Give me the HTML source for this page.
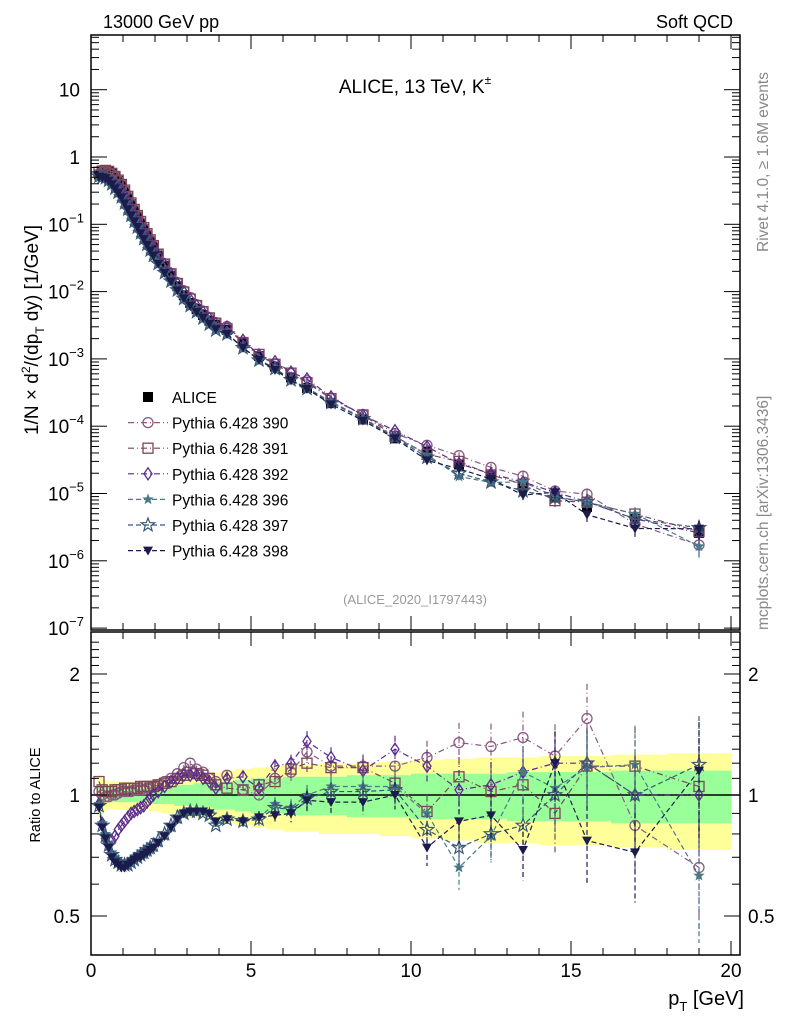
<!DOCTYPE html>
<html><head><meta charset="utf-8">
<style>
html,body{margin:0;padding:0;background:#fff;}
svg{display:block;font-family:"Liberation Sans",sans-serif;}
</style></head>
<body>
<svg id="chart" width="786" height="1024" viewBox="0 0 786 1024">
<defs>
<clipPath id="clipMain"><rect x="91" y="35" width="649" height="595"/></clipPath>
<clipPath id="clipRatio"><rect x="91" y="632" width="649" height="323"/></clipPath>
</defs>
<g id="bands" clip-path="url(#clipRatio)"></g>
<g id="ratioMarks" clip-path="url(#clipRatio)"></g>
<g id="mainAlice" clip-path="url(#clipMain)"></g>
<g id="mainMarks" clip-path="url(#clipMain)"></g>
<g id="axes"></g>
<text x="103" y="28" font-size="18">13000 GeV pp</text>
<text x="733" y="28" font-size="18" text-anchor="end">Soft QCD</text>
<text x="415" y="93" font-size="19" text-anchor="middle">ALICE, 13 TeV, K<tspan font-size="12" dy="-9">±</tspan></text>
<text x="415" y="604" font-size="13" fill="#999" text-anchor="middle">(ALICE_2020_I1797443)</text>
<text transform="translate(768,252) rotate(-90)" font-size="15.5" fill="#888">Rivet 4.1.0, ≥ 1.6M events</text>
<text transform="translate(768,630) rotate(-90)" font-size="15.5" fill="#888">mcplots.cern.ch [arXiv:1306.3436]</text>
<text transform="translate(38,330) rotate(-90)" font-size="19" text-anchor="middle">1/N × d<tspan font-size="12" dy="-8">2</tspan><tspan dy="8">/(dp</tspan><tspan font-size="12" dy="6">T</tspan><tspan dy="-6"> dy) [1/GeV]</tspan></text>
<text transform="translate(40,795) rotate(-90)" font-size="14.5" text-anchor="middle">Ratio to ALICE</text>
<text x="744" y="1005" font-size="20" text-anchor="end">p<tspan font-size="13" dy="6">T</tspan><tspan dy="-6"> [GeV]</tspan></text>
<g id="legend"></g>
</svg>
<script>
const pts=[0.25,0.35,0.45,0.55,0.65,0.75,0.85,0.95,1.05,1.15,1.25,1.35,1.45,1.55,1.65,1.75,1.85,1.95,2.1,2.3,2.5,2.7,2.9,3.1,3.3,3.5,3.7,3.9,4.25,4.75,5.25,5.75,6.25,6.75,7.5,8.5,9.5,10.5,11.5,12.5,13.5,14.5,15.5,17,19];
const alice=[0.55,0.6,0.62,0.6,0.56,0.5,0.44,0.38,0.31,0.25,0.2,0.16,0.13,0.105,0.085,0.069,0.056,0.046,0.034,0.024,0.017,0.012,0.0088,0.0068,0.0055,0.0045,0.0037,0.0032,0.0027,0.0017,0.0011,0.00077,0.00053,0.00037,0.00022,0.000126,0.000066,0.000042,0.000027,0.0000185,0.000013,0.0000087,0.0000063,0.0000042,0.0000026];
const bandYellow=[0.12,0.1,0.09,0.08,0.08,0.08,0.08,0.08,0.08,0.08,0.08,0.08,0.08,0.08,0.08,0.08,0.09,0.09,0.09,0.1,0.1,0.11,0.11,0.12,0.12,0.12,0.13,0.14,0.15,0.16,0.17,0.18,0.19,0.19,0.2,0.2,0.21,0.22,0.23,0.24,0.24,0.25,0.25,0.26,0.27];
const bandGreen=[0.04,0.04,0.04,0.04,0.04,0.04,0.04,0.04,0.04,0.04,0.04,0.04,0.04,0.04,0.04,0.04,0.05,0.05,0.05,0.05,0.05,0.06,0.06,0.06,0.07,0.07,0.07,0.08,0.08,0.09,0.1,0.1,0.11,0.11,0.11,0.12,0.12,0.13,0.13,0.13,0.14,0.14,0.14,0.15,0.15];
const mcErr=[0.01,0.01,0.01,0.01,0.01,0.01,0.01,0.01,0.01,0.01,0.01,0.01,0.01,0.01,0.01,0.01,0.01,0.01,0.01,0.01,0.015,0.015,0.015,0.015,0.02,0.02,0.02,0.02,0.025,0.03,0.035,0.04,0.05,0.06,0.06,0.07,0.08,0.1,0.12,0.14,0.16,0.2,0.22,0.25,0.32];
const r390=[1.02,1.0,0.99,0.99,1.0,1.0,1.01,1.02,1.02,1.02,1.02,1.03,1.03,1.03,1.03,1.04,1.04,1.05,1.06,1.08,1.1,1.13,1.17,1.2,1.16,1.14,1.1,1.08,1.12,1.03,1.0,1.1,1.14,1.28,1.18,1.18,1.18,1.24,1.35,1.32,1.39,1.25,1.55,0.84,0.66];
const r391=[1.08,1.03,1.02,1.02,1.02,1.03,1.03,1.03,1.04,1.04,1.04,1.04,1.04,1.05,1.05,1.05,1.05,1.05,1.06,1.07,1.08,1.1,1.12,1.14,1.13,1.12,1.1,1.06,1.04,1.03,1.06,1.08,1.16,1.2,1.17,1.17,1.07,0.91,1.11,1.02,1.06,0.9,1.18,1.18,1.05];
const r392=[0.95,0.85,0.78,0.75,0.77,0.79,0.82,0.84,0.86,0.88,0.9,0.91,0.92,0.93,0.94,0.96,0.98,1.0,1.02,1.05,1.08,1.1,1.12,1.12,1.12,1.1,1.08,1.04,1.1,1.11,1.04,1.18,1.2,1.36,1.24,1.15,1.3,1.18,1.03,1.06,1.14,1.2,1.2,1.0,1.0];
const r396=[0.95,0.85,0.8,0.76,0.72,0.7,0.68,0.67,0.67,0.67,0.68,0.69,0.7,0.71,0.71,0.72,0.73,0.74,0.76,0.79,0.83,0.87,0.9,0.91,0.91,0.91,0.9,0.85,0.88,0.87,0.88,0.95,0.93,1.0,1.05,1.05,1.05,0.9,0.66,0.79,1.14,1.04,1.17,1.19,0.63];
const r397=[0.94,0.84,0.79,0.75,0.71,0.69,0.68,0.67,0.67,0.67,0.68,0.69,0.7,0.71,0.72,0.73,0.74,0.75,0.77,0.8,0.84,0.88,0.9,0.91,0.91,0.9,0.89,0.84,0.87,0.86,0.87,0.93,0.92,0.98,1.02,1.02,1.03,0.82,0.74,0.8,0.84,1.0,1.2,1.0,1.19];
const r398=[0.93,0.83,0.78,0.74,0.7,0.68,0.67,0.66,0.66,0.67,0.68,0.69,0.7,0.7,0.71,0.72,0.73,0.74,0.76,0.79,0.83,0.87,0.9,0.91,0.91,0.91,0.9,0.86,0.87,0.86,0.88,0.89,0.9,0.97,0.96,0.96,1.0,0.74,0.86,0.89,0.73,1.2,0.77,0.72,1.15];
const xTicks=[0,5,10,15,20];
const yDecades=[-7,-6,-5,-4,-3,-2,-1,0,1];
const ratioTicks=[0.5,1,2];

const NS="http://www.w3.org/2000/svg";
function X(p){return 91+p*32;}
function Y(v){return 157-67.3*Math.log10(v);}
function YR(r){return 795-121*Math.log2(r);}
function mk(tag,attrs,parent){const e=document.createElementNS(NS,tag);for(const k in attrs)e.setAttribute(k,attrs[k]);parent.appendChild(e);return e;}

const series=[
 {name:"Pythia 6.428 390",r:r390,c:"#8a5a82",m:"circle",dash:"6,3,1,3"},
 {name:"Pythia 6.428 391",r:r391,c:"#7a4658",m:"square",dash:"6,3,1,3"},
 {name:"Pythia 6.428 392",r:r392,c:"#5a2a8c",m:"diamond",dash:"6,3,1,3"},
 {name:"Pythia 6.428 396",r:r396,c:"#4a7a88",m:"starf",dash:"5,3"},
 {name:"Pythia 6.428 397",r:r397,c:"#3a5878",m:"star",dash:"5,3"},
 {name:"Pythia 6.428 398",r:r398,c:"#1c1c4c",m:"tri",dash:"5,3"}
];
function starPath(x,y,R){let d="";for(let i=0;i<10;i++){const a=-Math.PI/2+i*Math.PI/5;const rr=i%2?R*0.42:R;d+=(i?"L":"M")+(x+rr*Math.cos(a)).toFixed(1)+","+(y+rr*Math.sin(a)).toFixed(1);}return d+"Z";}
function marker(g,type,x,y,c){
 let e;
 if(type==="circle")e=mk("circle",{cx:x,cy:y,r:5,fill:"none",stroke:c,"stroke-width":1.3},g);
 else if(type==="square")e=mk("rect",{x:x-5,y:y-5,width:10,height:10,fill:"none",stroke:c,"stroke-width":1.3},g);
 else if(type==="diamond")e=mk("path",{d:`M${x},${y-6}L${x+4},${y}L${x},${y+6}L${x-4},${y}Z`,fill:"none",stroke:c,"stroke-width":1.3},g);
 else if(type==="starf")e=mk("path",{d:starPath(x,y,6),fill:c},g);
 else if(type==="star")e=mk("path",{d:starPath(x,y,7),fill:"none",stroke:c,"stroke-width":1.2},g);
 else if(type==="tri")e=mk("path",{d:`M${x-5},${y-4}L${x+5},${y-4}L${x},${y+5}Z`,fill:c},g);
 else e=mk("rect",{x:x-5,y:y-5,width:10,height:10,fill:c},g);
 return e;
}
const edges=pts.map((p,i)=>i===0?0.2:(pts[i-1]+p)/2);edges.push(20);
const gb=document.getElementById("bands");
pts.forEach((p,i)=>{
 const x0=X(edges[i]),x1=X(edges[i+1]);
 const y1=mk("rect",{x:x0,y:YR(1+bandYellow[i]),width:x1-x0+0.5,height:YR(1-bandYellow[i])-YR(1+bandYellow[i]),fill:"#ffff99"},gb);
 
 
 const g1=mk("rect",{x:x0,y:YR(1+bandGreen[i]),width:x1-x0+0.5,height:YR(1-bandGreen[i])-YR(1+bandGreen[i]),fill:"#99ff99"},gb);
 
 
});
const ref=mk("line",{x1:91,x2:740,y1:YR(1),y2:YR(1),stroke:"#000","stroke-width":1.5},gb);


const gr=document.getElementById("ratioMarks"),gm=document.getElementById("mainMarks"),gal=document.getElementById("mainAlice");
pts.forEach((p,i)=>{
 const m=marker(gal,"fsq",X(p),Y(alice[i]),"#000");
 
 
});
series.forEach(s=>{
 const g=mk("g",{},gr);
 
 
 const ln=mk("polyline",{points:pts.map((p,i)=>X(p)+","+YR(s.r[i])).join(" "),fill:"none",stroke:s.c,"stroke-width":1.2,"stroke-dasharray":s.dash},g);
 
 
 pts.forEach((p,i)=>{
  const r=s.r[i],e=mcErr[i]*r;
  if(e>0.015){const eb=mk("line",{x1:X(p),x2:X(p),y1:YR(r+e),y2:YR(Math.max(r-e,0.3)),stroke:s.c,"stroke-width":1.2,"stroke-dasharray":s.dash},g);
  
  }
  const m=marker(g,s.m,X(p),YR(r),s.c);
  
  
 });
 const g2=mk("g",{},gm);
 
 
 const l2=mk("polyline",{points:pts.map((p,i)=>X(p)+","+Y(alice[i]*s.r[i])).join(" "),fill:"none",stroke:s.c,"stroke-width":1.2,"stroke-dasharray":s.dash},g2);
 
 
 pts.forEach((p,i)=>{
  const v=alice[i]*s.r[i];
  if(mcErr[i]>0.05){const eb=mk("line",{x1:X(p),x2:X(p),y1:Y(v*(1+mcErr[i])),y2:Y(v*(1-mcErr[i])),stroke:s.c,"stroke-width":1.2},g2);
  
  }
  const m=marker(g2,s.m,X(p),Y(v),s.c);
  
  
 });
});
const ga=document.getElementById("axes");
function ln(x1,y1,x2,y2,w,name){const e=mk("line",{x1,y1,x2,y2,stroke:"#000","stroke-width":w||1},ga);return e;}
const f1=mk("rect",{x:91,y:35,width:649,height:595,fill:"none",stroke:"#000","stroke-width":1.5},ga);


const f2=mk("rect",{x:91,y:632,width:649,height:323,fill:"none",stroke:"#000","stroke-width":1.5},ga);


for(let p=0;p<=20;p++){
 const big=p%5===0,x=X(p);
 ln(x,955,x,955-(big?14:7),1,'x-tick');ln(x,632,x,632+(big?14:7),1,'x-tick');
 ln(x,630,x,630-(big?14:7),1,'x-tick');ln(x,35,x,35+(big?14:7),1,'x-tick');
}
xTicks.forEach(p=>{const t=mk("text",{x:X(p),y:977,"font-size":19,"text-anchor":"middle"},ga);t.textContent=String(p);});
yDecades.forEach(d=>{
 for(let k=1;k<10;k++){const v=k*Math.pow(10,d),y=Y(v);if(y<35||y>630)continue;const L=k===1?16:8;ln(91,y,91+L,y,1,'y-tick');ln(740,y,740-L,y,1,'y-tick');}
 const t=mk("text",{x:80,y:Y(Math.pow(10,d))+7,"font-size":19,"text-anchor":"end"},ga);
 
 
 if(d===0)t.textContent="1";else if(d===1)t.textContent="10";
 else{t.textContent="10";const s=document.createElementNS(NS,"tspan");s.setAttribute("font-size","13");s.setAttribute("dy","-9");s.textContent="−"+(-d);t.appendChild(s);t.setAttribute("x",84);t.setAttribute("text-anchor","end");}
});
for(let r=0.4;r<=2.5;r+=0.1){const y=YR(r);if(y<632||y>955)continue;const big=Math.abs(r-0.5)<1e-6||Math.abs(r-1)<1e-6||Math.abs(r-2)<1e-6;const L=big?16:8;ln(91,y,91+L,y,1,'ratio-tick');ln(740,y,740-L,y,1,'ratio-tick');}
ratioTicks.forEach(r=>{
 const t=mk("text",{x:80,y:YR(r)+7,"font-size":19,"text-anchor":"end"},ga);t.textContent=String(r);
 const t2=mk("text",{x:748,y:YR(r)+7,"font-size":19},ga);t2.textContent=String(r);
});
const gl=document.getElementById("legend");
const ly0=397,ldy=25.6;
const la=marker(gl,"fsq",148,ly0,"#000");


const lt=mk("text",{x:172,y:ly0+6,"font-size":15.5},gl);lt.textContent="ALICE";


series.forEach((s,i)=>{
 const y=ly0+ldy*(i+1);
 const l=mk("line",{x1:128,x2:168,y1:y,y2:y,stroke:s.c,"stroke-width":1.2,"stroke-dasharray":s.dash},gl);
 
 
 const m=marker(gl,s.m,148,y,s.c);
 
 
 const t=mk("text",{x:172,y:y+6,"font-size":15.5},gl);t.textContent=s.name;
 
 
});
</script>
</body></html>
